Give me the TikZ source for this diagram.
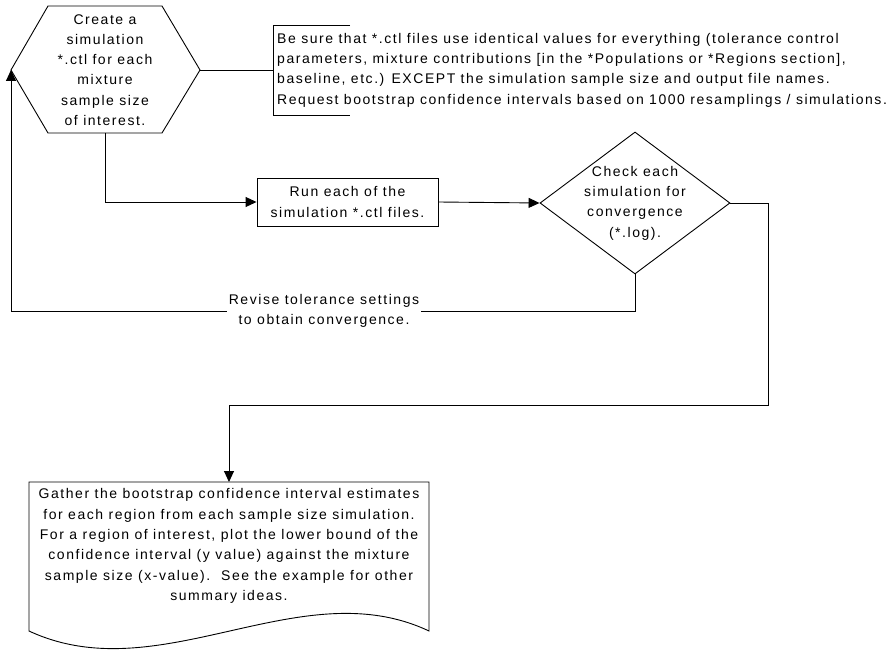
\documentclass[tikz,border=0pt]{standalone}
\usepackage{fontspec}
\setmainfont{Liberation Sans}[LetterSpace=11]
\usetikzlibrary{shapes.geometric,arrows.meta}
\begin{document}
\begin{tikzpicture}[x=1pt,y=-1pt,
  every node/.style={font=\fontsize{14}{20.3}\selectfont},
  shapeline/.style={draw=black,line width=0.9pt},
  conn/.style={draw=black,line width=0.9pt},
  arr/.style={conn,-{Triangle[length=11pt,width=10pt]}},
  txt/.style={align=center,inner sep=0pt}]
\useasboundingbox (0,0) rectangle (893,652);

% hexagon
\coordinate (hexL) at (11,70);
\coordinate (hexR) at (200,70);
\coordinate (hexB) at (105,133);
\draw[shapeline] (hexL) -- (48,6) -- (162,6) -- (hexR) -- (162,133) -- (48,133) -- cycle;
\node[txt] (create) at (105,70) {Create a\\simulation\\*.ctl for each\\mixture\\sample size\\of interest.};

% annotation
\coordinate (noteL) at (273,70);
\draw[conn] (hexR) -- (noteL);
\draw[shapeline] (350,25) -- (273,25) -- (273,115) -- (350,115);
\node[anchor=west,align=left,inner sep=0pt] (note) at (277,70) {Be sure that *.ctl files use identical values for everything (tolerance control\\parameters, mixture contributions [in the *Populations or *Regions section],\\baseline, etc.) EXCEPT the simulation sample size and output file names.\\Request bootstrap confidence intervals based on 1000 resamplings / simulations.};

% run box
\node[draw,line width=0.9pt,minimum width=181pt,minimum height=48pt,txt] (run) at (347.5,202) {Run each of the\\simulation *.ctl files.};

% decision
\node[diamond,draw,line width=0.9pt,minimum width=190pt,minimum height=142pt,inner sep=0pt] (check) at (635,203) {};
\node[txt] (checktext) at (check.center) {Check each\\simulation for\\convergence\\(*.log).};

% document
\coordinate (docTop) at (229,482);
\draw[shapeline] (29,482) -- (429,482) -- (429,631) .. controls (300,570) and (160,692) .. (29,631) -- cycle;
\node[txt] (gather) at (229,546) {Gather the bootstrap confidence interval estimates\\for each region from each sample size simulation.\\For a region of interest, plot the lower bound of the\\confidence interval (y value) against the mixture\\sample size (x-value).\ \ See the example for other\\summary ideas.};

% connectors
\draw[arr] (hexB) -- (105,202) -- (run.west);
\draw[arr] (run.east) -- (check.west);
\draw[arr] (check.south) -- ++(0,37) -| (hexL);
\node[fill=white,txt,inner sep=2pt] (revise) at (324,311) {Revise tolerance settings\\to obtain convergence.};
\draw[arr] (check.east) -- (768,203) -- (768,405) -| (docTop);
\end{tikzpicture}
\end{document}
